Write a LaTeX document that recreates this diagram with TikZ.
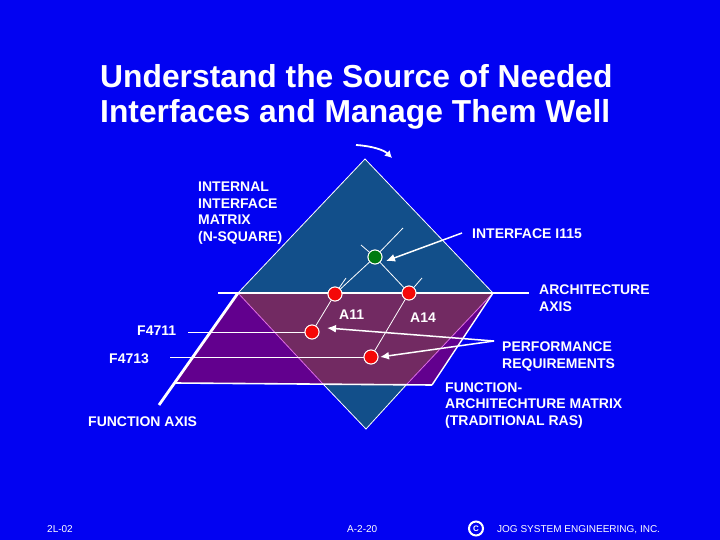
\documentclass[tikz,border=0pt]{standalone}
\usepackage{fontspec}
\setmainfont{Liberation Sans}
\definecolor{bgblue}{HTML}{0202F2}
\definecolor{topfill}{HTML}{124F8A}
\definecolor{purplefill}{HTML}{62008E}
\definecolor{overlapfill}{HTML}{722A62}
\definecolor{linkpink}{HTML}{E070E0}
\definecolor{redball}{HTML}{F40808}
\definecolor{greenball}{HTML}{007A10}
\usetikzlibrary{arrows.meta}
\tikzset{
  lbl/.style={text=white,inner sep=0pt,anchor=base west,align=left,font=\fontsize{14}{16.4}\selectfont\bfseries},
  foot/.style={text=white,inner sep=0pt,anchor=base west,font=\fontsize{10}{11}\selectfont},
  ttl/.style={text=white,inner sep=0pt,anchor=base west,font=\fontsize{31.8}{35}\selectfont\bfseries},
  ball/.style={circle,draw=white,line width=0.9pt,minimum size=14pt,inner sep=0pt},
  thin line/.style={draw=white,line width=0.8pt},
  axis/.style={draw=white,line width=2.8pt},
  callout/.style={draw=white,line width=1.5pt,-{Latex[length=9pt,width=8pt]}}
}
\begin{document}
\begin{tikzpicture}[x=1pt,y=-1pt]
\useasboundingbox (0,0) rectangle (720,540);
\fill[bgblue] (0,0) rectangle (720,540);
\coordinate (dt) at (365,159);
\coordinate (dl) at (238,293);
\coordinate (dr) at (493,293);
\coordinate (db) at (366,429);
\coordinate (pb) at (175,383);
\coordinate (pc) at (432,385);
% fills
\fill[topfill] (dt) -- (dr) -- (db) -- (dl) -- cycle;
\fill[purplefill] (dl) -- (dr) -- (pc) -- (pb) -- cycle;
\fill[overlapfill] (dl) -- (dr) -- (405,385) -- (325,385) -- cycle;
% outlines
\draw[white,line width=0.8pt] (dl) -- (dt) -- (dr);
\draw[linkpink,line width=0.8pt] (dl) -- (323,384);
\draw[linkpink,line width=0.8pt] (dr) -- (407,384);
\draw[white,line width=0.8pt] (323,384) -- (db) -- (407,384);
\draw[white,line width=1.4pt] (dr) -- (pc);
\draw[white,line width=1.6pt] (pb) -- (pc);
% nodes
\node[ball,fill=greenball] (g) at (375,257) {};
\node[ball,fill=redball] (ra) at (335,294) {};
\node[ball,fill=redball] (rb) at (409,293) {};
\node[ball,fill=redball] (rc) at (312,332) {};
\node[ball,fill=redball] (rd) at (371,357) {};
% axes
\coordinate (aw) at (218,293);
\coordinate (am) at (503,293);
\coordinate (ae) at (529,293);
\coordinate (fn) at (238,293);
\coordinate (fs) at (159,405);
\draw[axis] (aw) -- (am);
\draw[white,line width=1.6pt] (am) -- (ae);
\draw[axis] (fn) -- (fs);
% thin lines
\coordinate (t1) at (403,228);
\coordinate (t2) at (361,245);
\coordinate (t3) at (346,278);
\coordinate (t4) at (422,278);
\coordinate (t5) at (366,363);
\coordinate (h1) at (188,332);
\coordinate (h2) at (170,357);
\draw[thin line] (t1) -- (g) -- (ra);
\draw[thin line] (t2) -- (g) -- (rb);
\draw[thin line] (t3) -- (ra) -- (rc);
\draw[thin line] (t4) -- (rb) -- (rd) -- (t5);
\draw[thin line] (h1) -- (rc);
\draw[thin line] (h2) -- (rd);
% redraw balls on top
\node[ball,fill=greenball] at (g) {};
\node[ball,fill=redball] at (ra) {};
\node[ball,fill=redball] at (rb) {};
\node[ball,fill=redball] at (rc) {};
\node[ball,fill=redball] at (rd) {};
% callouts
\coordinate (c1) at (462,233);
\coordinate (c2) at (494,341);
\coordinate (e1) at (386,261);
\coordinate (e2) at (327,328);
\coordinate (e3) at (380,357);
\draw[callout] (c1) -- (e1);
\draw[callout] (c2) -- (e2);
\draw[callout] (c2) -- (e3);
% top arrow
\coordinate (r1) at (356,145);
\coordinate (r2) at (392,158);
\draw[white,line width=1.8pt,-{Latex[length=7pt,width=8pt]}] (r1) .. controls (372,146) and (384,150) .. (r2);
% texts
\node[ttl] (ta) at (100,88) {Understand the Source of Needed};
\node[ttl] (tb) at (100,123) {Interfaces and Manage Them Well};
\node[lbl] (l1) at (198,241) {INTERNAL\\INTERFACE\\MATRIX\\(N-SQUARE)};
\node[lbl] (l2) at (472,239) {INTERFACE I115};
\node[lbl] (l3) at (539,311) {ARCHITECTURE\\AXIS};
\node[lbl] (l4) at (339,319) {A11};
\node[lbl] (l5) at (410,322) {A14};
\node[lbl] (l6) at (137,335) {F4711};
\node[lbl] (l7) at (109,363) {F4713};
\node[lbl] (l8) at (502,368) {PERFORMANCE\\REQUIREMENTS};
\node[lbl] (l9) at (445,425) {FUNCTION-\\ARCHITECHTURE MATRIX\\(TRADITIONAL RAS)};
\node[lbl] (l10) at (88,426) {FUNCTION AXIS};
\node[foot] (f1) at (47,532) {2L-02};
\node[foot] (f2) at (347,532) {A-2-20};
\node[circle,draw=white,line width=2pt,minimum size=14pt,inner sep=0pt,text=white,font=\fontsize{8}{9}\selectfont\bfseries] (f3) at (476,528.5) {C};
\node[foot] (f4) at (497,532) {JOG SYSTEM ENGINEERING, INC.};
\end{tikzpicture}
\end{document}
